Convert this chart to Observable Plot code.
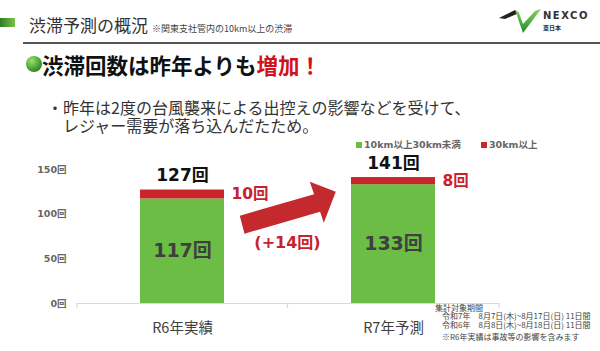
<!DOCTYPE html>
<html><head><meta charset="utf-8">
<script src="https://cdn.jsdelivr.net/npm/d3@7"></script>
<script src="https://cdn.jsdelivr.net/npm/@observablehq/plot@0.6"></script>
<style>
body{margin:0;background:#fff;}
#page{position:relative;width:600px;height:351px;overflow:hidden;background:#fff;font-family:"Noto Sans CJK JP",sans-serif;}
.abs{position:absolute;white-space:nowrap;line-height:1;}
#chart{position:absolute;left:0;top:140px;}
</style></head>
<body>
<div id="page">
  <div class="abs" style="left:0;top:18px;width:15px;height:9px;background:linear-gradient(90deg,#2f7d22,#7cc24e);"></div>
  <div class="abs" style="left:29px;top:16px;font-size:17px;color:#333;">渋滞予測の概況</div>
  <div class="abs" style="left:152px;top:24px;font-size:9px;color:#444;">※関東支社管内の10km以上の渋滞</div>
  <div class="abs" style="left:23px;top:42px;width:577px;height:2px;background:#555;"></div>
  <svg class="abs" style="left:497px;top:4px;" width="46" height="32" viewBox="0 0 46 32">
    <defs><linearGradient id="lg" x1="0" y1="0" x2="0" y2="1"><stop offset="0" stop-color="#8bd05a"/><stop offset="1" stop-color="#1f8a2c"/></linearGradient></defs>
    <path d="M2,14 L18,6 L22,9 L8,15 Z" fill="#222"/>
    <path d="M18,6 L26,29 L44,5 L38,7 L26,20 L22,9 Z" fill="url(#lg)"/>
  </svg>
  <div class="abs" style="left:543px;top:11px;font-family:'DejaVu Sans',sans-serif;font-weight:bold;font-size:10px;letter-spacing:1.5px;color:#333;">NEXCO</div>
  <div class="abs" style="left:543px;top:25px;font-size:6px;font-weight:bold;color:#333;">東日本</div>
  <div class="abs" style="left:26px;top:56px;width:16px;height:16px;border-radius:50%;background:radial-gradient(circle at 35% 30%,#9be070,#3f9a2c 60%,#21701a);"></div>
  <div class="abs" style="left:42px;top:54px;font-size:21.5px;font-weight:bold;color:#111;">渋滞回数は昨年よりも<span style="color:#d0121b;">増加！</span></div>
  <div class="abs" style="left:47px;top:99px;font-size:16px;line-height:17.5px;color:#333;">・昨年は2度の台風襲来による出控えの影響などを受けて、<br>&#12288;レジャー需要が落ち込んだたため。</div>
  <div id="legend"></div>
  <div id="chart"></div>
  <div id="notes"></div>
</div>
<script>
const categories = ["R6年実績", "R7年予測"];
const series = ["10km以上30km未満", "30km以上"];
const under30 = [117, 133];
const over30 = [10, 8];
const totals = [127, 141];
const increase = 14;
const yTicks = [0, 50, 100, 150];
const colors = ["#6cbd45", "#c9262c"];
const noteTitle = "集計対象期間";
const noteLines = ["令和7年　8月7日(木)~8月17日(日) 11日間", "令和6年　8月8日(木)~8月18日(日) 11日間", "※R6年実績は事故等の影響を含みます"];

const rows = categories.map((c, i) => ({cat: c, under: under30[i], over: over30[i], total: totals[i]}));
const red = "#c8232c";

const chart = Plot.plot({
  width: 600, height: 211,
  marginLeft: 77, marginRight: 101, marginTop: 29, marginBottom: 48,
  style: {fontFamily: "'DejaVu Sans','Noto Sans CJK JP',sans-serif", background: "transparent", overflow: "visible"},
  x: {domain: categories, paddingInner: 0.6, paddingOuter: 0.3},
  y: {domain: [0, 150]},
  marks: [
    Plot.ruleY([0], {stroke: "#d9d9d9", strokeWidth: 1.2}),
    Plot.barY(rows, {x: "cat", y1: 0, y2: "under", fill: colors[0]}),
    Plot.barY(rows, {x: "cat", y1: "under", y2: "total", fill: colors[1]}),
    Plot.axisY({ticks: yTicks, tickFormat: d => d + "回", tickSize: 0, tickPadding: 11, fontSize: 9.5, fontWeight: "bold", fill: "#666", label: null}),
    Plot.axisX({tickSize: 0, tickPadding: 19, fontSize: 14.5, fill: "#404040", fontFamily: "'Noto Sans CJK JP',sans-serif", label: null}),
    Plot.text(rows, {x: "cat", y: "total", text: d => d.total + "回", dy: -14, fontSize: 17, fontWeight: "bold", fill: "#111"}),
    Plot.text(rows, {x: "cat", y: d => d.under + d.over / 2, text: d => d.over + "回", dx: 49, textAnchor: "start", fontSize: 15.5, fontWeight: "bold", fill: red}),
    Plot.text(rows, {x: "cat", y: d => d.under / 2, text: d => d.under + "回", fontSize: 19, fontWeight: "bold", fill: "#3f3f3f"})
  ]
});
document.getElementById("chart").appendChild(chart);

// annotation: arrow, increase label, category separators
const sx = chart.scale("x"), sy = chart.scale("y");
const bw = sx.bandwidth;
const mid = (sx.apply(categories[0]) + bw + sx.apply(categories[1])) / 2;
const yb = sy.apply(100);
const svg = d3.select(chart);
const arrowPts = [[-43, 20], [-47.7, 2], [26.6, -19.5], [22.3, -32], [48.3, -22], [36.3, 9], [32.6, -1.9]];
svg.append("polygon")
  .attr("points", arrowPts.map(([dx, dy]) => [mid + dx, yb + dy].join(",")).join(" "))
  .attr("fill", "#c42a2d");
svg.append("text")
  .attr("x", mid).attr("y", yb + 29).attr("dy", "0.35em")
  .attr("text-anchor", "middle").attr("font-size", 16).attr("font-weight", "bold")
  .attr("fill", red).text("(+" + increase + "回)");
const y0 = sy.apply(0);
[sx.range[0], mid, sx.range[1]].forEach(x => {
  svg.append("line").attr("x1", x).attr("x2", x).attr("y1", y0).attr("y2", y0 + 5)
    .attr("stroke", "#d9d9d9").attr("stroke-width", 1.2);
});

// legend
const legend = document.getElementById("legend");
const legPos = [356, 481];
series.forEach((s, i) => {
  const sw = document.createElement("div");
  sw.className = "abs";
  sw.style.cssText = `left:${legPos[i]}px;top:142px;width:6px;height:6px;background:${colors[i]};`;
  legend.appendChild(sw);
  const t = document.createElement("div");
  t.className = "abs";
  t.style.cssText = `left:${legPos[i] + 8}px;top:140px;font-size:9.5px;font-weight:bold;color:#666;font-family:'DejaVu Sans','Noto Sans CJK JP',sans-serif;`;
  t.textContent = s;
  legend.appendChild(t);
});

// notes
const notes = document.getElementById("notes");
const nt = document.createElement("div");
nt.className = "abs";
nt.style.cssText = "left:435px;top:303px;font-size:8px;line-height:9px;color:#444;";
nt.textContent = noteTitle;
notes.appendChild(nt);
const nb = document.createElement("div");
nb.className = "abs";
nb.style.cssText = "left:442px;top:312px;font-size:8px;line-height:8.6px;color:#444;";
nb.innerHTML = noteLines.slice(0, 2).join("<br>") + '<div style="margin-top:4px">' + noteLines[2] + "</div>";
notes.appendChild(nb);
</script>
</body></html>
